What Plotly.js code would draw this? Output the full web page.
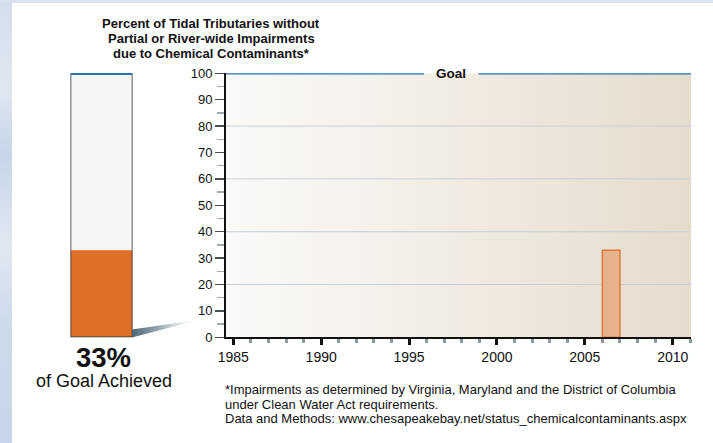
<!DOCTYPE html>
<html>
<head>
<meta charset="utf-8">
<script src="https://cdn.plot.ly/plotly-3.0.1.min.js"></script>
<style>
  html, body { margin: 0; padding: 0; background: #ffffff; }
  #chart { width: 713px; height: 443px; }
</style>
</head>
<body>
<div id="chart"></div>
<script>
// ---- data ----
const years = [2006];
const percentWithout = [33];
const goalValue = 100;
const xTickYears = [1985, 1990, 1995, 2000, 2005, 2010];
const yTickValues = [0, 10, 20, 30, 40, 50, 60, 70, 80, 90, 100];
const gridValues = [20, 40, 60, 80];
const goalLabel = 'Goal';
const titleLines = [
  'Percent of Tidal Tributaries without',
  'Partial or River-wide Impairments',
  'due to Chemical Contaminants*'
];
const footnoteLines = [
  '*Impairments as determined by Virginia, Maryland and the District of Columbia',
  'under Clean Water Act requirements.',
  'Data and Methods: www.chesapeakebay.net/status_chemicalcontaminants.aspx'
];

// ---- page geometry (pixels -> paper fractions) ----
const W = 713, H = 443;
const px = v => v / W;
const py = v => 1 - v / H;
const FONT = 'Liberation Sans, Arial, Helvetica, sans-serif';

const plotLeft = 226, plotRight = 691, plotTop = 73.3, plotBottom = 337.3;
const gaugeLeft = 70.5, gaugeRight = 132.5;
const xRange = [1984.585, 2011.04];
const goalGap = [1995.85, 1998.95];
const titleRows = [24, 38.7, 53.3];
const footRows = [389, 404, 418.7];

const latest = percentWithout[percentWithout.length - 1];
const achieved = Math.round(latest / goalValue * 100);

const svgURI = s => 'data:image/svg+xml;charset=utf-8,' + encodeURIComponent(s);

// warm left-to-right wash behind the plot
const plotWash = svgURI(
  '<svg xmlns="http://www.w3.org/2000/svg" width="100" height="100" viewBox="0 0 100 100" preserveAspectRatio="none">' +
  '<defs><linearGradient id="g" x1="0" y1="0" x2="1" y2="0">' +
  '<stop offset="0" stop-color="#fbfaf8"/><stop offset="0.5" stop-color="#f1ebe3"/>' +
  '<stop offset="1" stop-color="#e5dccd"/></linearGradient></defs>' +
  '<rect width="100" height="100" fill="url(#g)"/></svg>');

// pale blue frame on the left edge
const sideFrame = svgURI(
  '<svg xmlns="http://www.w3.org/2000/svg" width="10" height="100" viewBox="0 0 10 100" preserveAspectRatio="none">' +
  '<defs><linearGradient id="b" x1="0" y1="0" x2="0" y2="1">' +
  '<stop offset="0" stop-color="#d3deec"/><stop offset="0.2" stop-color="#dfe7f1"/>' +
  '<stop offset="0.35" stop-color="#c6d5e9"/><stop offset="0.55" stop-color="#e1e8f2"/>' +
  '<stop offset="0.75" stop-color="#cbd9eb"/><stop offset="1" stop-color="#c7d6ea"/></linearGradient></defs>' +
  '<rect width="10" height="100" fill="url(#b)"/></svg>');

const topFrame = svgURI(
  '<svg xmlns="http://www.w3.org/2000/svg" width="100" height="10" viewBox="0 0 100 10" preserveAspectRatio="none">' +
  '<rect width="100" height="10" fill="#d8e2ee"/></svg>');

// shadow wedge linking the gauge to the chart
const wedge = svgURI(
  '<svg xmlns="http://www.w3.org/2000/svg" width="61" height="22" viewBox="0 0 61 22" preserveAspectRatio="none">' +
  '<defs><linearGradient id="w" x1="0" y1="0" x2="1" y2="0">' +
  '<stop offset="0" stop-color="#4d6674"/><stop offset="0.5" stop-color="#a3b3bc"/>' +
  '<stop offset="1" stop-color="#e8edf0" stop-opacity="0.3"/></linearGradient></defs>' +
  '<polygon points="0,13.5 61,4.5 61,5.5 0,21.5" fill="url(#w)"/></svg>');

const traces = [
  // yearly values, each bar covering its own year
  {
    type: 'bar', x: years, y: percentWithout, width: years.map(() => 1), offset: 0,
    xaxis: 'x', yaxis: 'y', cliponaxis: false,
    marker: { color: '#e8b38c', line: { color: '#e2773a', width: 1.5 } },
    hoverinfo: 'skip'
  },
  // goal line, broken around its label
  {
    type: 'scatter', mode: 'lines', xaxis: 'x', yaxis: 'y', cliponaxis: false,
    x: [xRange[0], goalGap[0], null, goalGap[1], xRange[1]],
    y: [goalValue, goalValue, null, goalValue, goalValue],
    line: { color: '#2673b8', width: 2.5 }, hoverinfo: 'skip'
  },
  // gauge: empty tube
  {
    type: 'bar', x: [0.5], y: [goalValue], width: [1], xaxis: 'x2', yaxis: 'y2', cliponaxis: false,
    marker: { color: '#f6f6f6', line: { width: 0 } }, hoverinfo: 'skip'
  },
  // gauge: achieved share
  {
    type: 'bar', x: [0.5], y: [achieved], width: [1], xaxis: 'x2', yaxis: 'y2', cliponaxis: false,
    marker: { color: '#df6e27', line: { width: 0 } }, hoverinfo: 'skip'
  },
  // gauge: outline
  {
    type: 'bar', x: [0.5], y: [goalValue], width: [1], xaxis: 'x2', yaxis: 'y2', cliponaxis: false,
    marker: { color: 'rgba(0,0,0,0)', line: { color: '#30363a', width: 1.6 } }, hoverinfo: 'skip'
  },
  // gauge: goal cap
  {
    type: 'scatter', mode: 'lines', x: [0, 1], y: [goalValue, goalValue], xaxis: 'x2', yaxis: 'y2',
    cliponaxis: false, line: { color: '#2673b8', width: 3.5 }, hoverinfo: 'skip'
  }
];

const textNote = (text, x, y, size, xanchor) => ({
  xref: 'paper', yref: 'paper', x: px(x), y: py(y), xanchor: xanchor, yanchor: 'middle',
  showarrow: false, align: xanchor === 'left' ? 'left' : 'center', text: text,
  font: { size: size, family: FONT, color: '#111111' }
});

const annotations = [
  ...titleLines.map((t, i) => textNote('<b>' + t + '</b>', 211.5, titleRows[i], 13, 'center')),
  ...footnoteLines.map((t, i) => textNote(t, 222.5, footRows[i], 13, 'left')),
  textNote('<b>' + achieved + '%</b>', 103, 357, 27.5, 'center'),
  textNote('of Goal Achieved', 104, 381, 18, 'center'),
  {
    xref: 'x', yref: 'y', x: (goalGap[0] + goalGap[1]) / 2, y: goalValue, xanchor: 'center', yanchor: 'middle',
    showarrow: false, text: '<b>' + goalLabel + '</b>',
    font: { size: 13.5, family: FONT, color: '#111111' }
  }
];

const layout = {
  width: W, height: H,
  margin: { l: 0, r: 0, t: 0, b: 0 },
  paper_bgcolor: '#ffffff',
  plot_bgcolor: 'rgba(0,0,0,0)',
  showlegend: false,
  barmode: 'overlay',
  font: { family: FONT, color: '#111111' },
  xaxis: {
    domain: [px(plotLeft), px(plotRight)], range: xRange, anchor: 'y',
    tickmode: 'array', tickvals: xTickYears, ticktext: xTickYears.map(String),
    ticks: 'outside', ticklen: 6, tickwidth: 3, tickcolor: '#111111',
    minor: { tickmode: 'linear', tick0: 1985, dtick: 1, ticks: 'outside', ticklen: 4, tickwidth: 3, tickcolor: '#8e989f', showgrid: false },
    showline: true, linecolor: '#111111', linewidth: 2,
    showgrid: false, zeroline: false,
    tickfont: { size: 14, color: '#111111', family: FONT }
  },
  yaxis: {
    domain: [py(plotBottom), py(plotTop)], range: [0, 100], anchor: 'x',
    tickmode: 'array', tickvals: yTickValues, ticktext: yTickValues.map(String),
    ticks: 'outside', ticklen: 9, tickwidth: 1.5, tickcolor: '#4a4f53',
    minor: { tickmode: 'linear', tick0: 0, dtick: 5, ticks: 'outside', ticklen: 7, tickwidth: 1.5, tickcolor: '#a3aaaf', showgrid: false },
    showline: true, linecolor: '#111111', linewidth: 2,
    showgrid: false, zeroline: false,
    tickfont: { size: 13, color: '#111111', family: FONT }
  },
  xaxis2: { domain: [px(gaugeLeft), px(gaugeRight)], range: [0, 1], anchor: 'y2', visible: false },
  yaxis2: { domain: [py(plotBottom), py(plotTop)], range: [0, 100], anchor: 'x2', visible: false },
  shapes: gridValues.map(v => ({
    type: 'line', xref: 'x', yref: 'y', x0: xRange[0], x1: xRange[1], y0: v, y1: v,
    line: { color: '#c6ced5', width: 1 }, layer: 'below'
  })),
  images: [
    { source: plotWash, xref: 'paper', yref: 'paper', x: px(plotLeft), y: py(plotTop),
      sizex: px(plotRight) - px(plotLeft), sizey: (plotBottom - plotTop) / H,
      xanchor: 'left', yanchor: 'top', sizing: 'stretch', layer: 'below' },
    { source: sideFrame, xref: 'paper', yref: 'paper', x: 0, y: 1, sizex: 12 / W, sizey: 1,
      xanchor: 'left', yanchor: 'top', sizing: 'stretch', layer: 'below' },
    { source: topFrame, xref: 'paper', yref: 'paper', x: 0, y: 1, sizex: 1, sizey: 3 / H,
      xanchor: 'left', yanchor: 'top', sizing: 'stretch', layer: 'below' },
    { source: wedge, xref: 'paper', yref: 'paper', x: px(132), y: py(316), sizex: 61 / W, sizey: 22 / H,
      xanchor: 'left', yanchor: 'top', sizing: 'stretch', layer: 'above' }
  ],
  annotations: annotations
};

Plotly.newPlot('chart', traces, layout, { displayModeBar: false, staticPlot: true });
</script>
</body>
</html>
